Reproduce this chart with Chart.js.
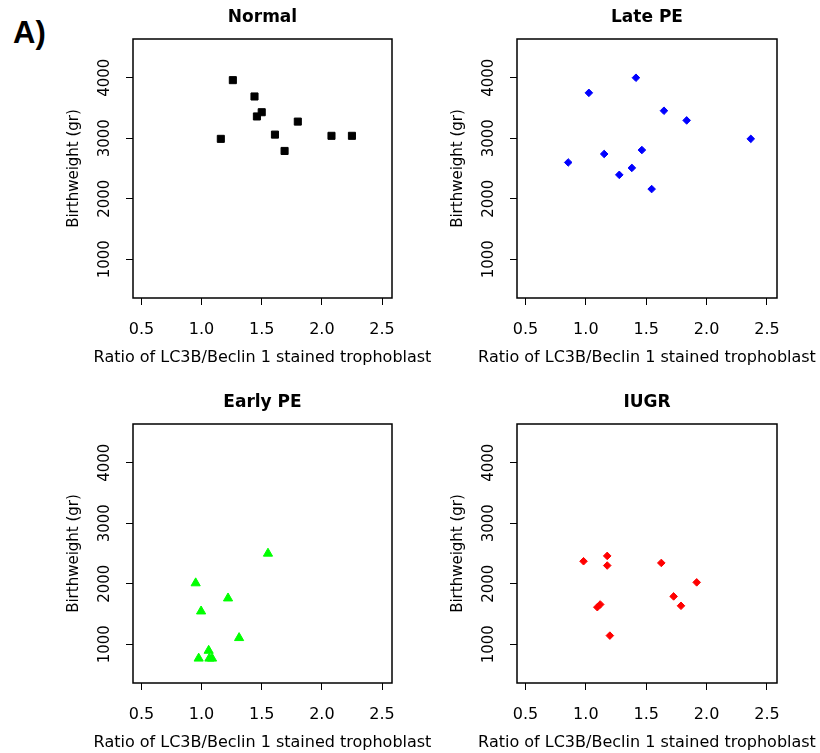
<!DOCTYPE html>
<html><head><meta charset="utf-8">
<script src="https://cdn.jsdelivr.net/npm/chart.js@4"></script>
<style>
html,body{margin:0;padding:0;background:#fff;width:820px;height:753px;overflow:hidden;position:relative}
canvas{position:absolute}
#lab{position:absolute;left:13px;top:17px;font:bold 31px "Liberation Sans",Arial,sans-serif;line-height:31px;color:#000}
</style></head><body>
<div id="lab">A)</div>
<canvas id="c1" width="440" height="368" style="left:0;top:0"></canvas>
<canvas id="c2" width="436" height="368" style="left:384px;top:0"></canvas>
<canvas id="c3" width="440" height="368" style="left:0;top:385px"></canvas>
<canvas id="c4" width="436" height="368" style="left:384px;top:385px"></canvas>
<script>
// ---- data ----
const xTickValues = [0.5, 1.0, 1.5, 2.0, 2.5];
const xTickLabels = ['0.5', '1.0', '1.5', '2.0', '2.5'];
const yTickValues = [1000, 2000, 3000, 4000];
const yTickLabels = ['1000', '2000', '3000', '4000'];
const panelTitles = ['Normal', 'Late PE', 'Early PE', 'IUGR'];
const xAxisTitle = 'Ratio of LC3B/Beclin 1 stained trophoblast';
const yAxisTitle = 'Birthweight (gr)';

const normalX = [1.26, 1.44, 1.50, 1.46, 1.80, 1.16, 1.61, 1.69, 2.08, 2.25];
const normalY = [3960, 3690, 3430, 3360, 3275, 2990, 3060, 2790, 3040, 3040];

const latePEX = [1.415, 1.025, 1.647, 1.835, 2.366, 1.464, 1.152, 0.854, 1.381, 1.277, 1.545];
const latePEY = [4000, 3750, 3455, 3295, 2990, 2805, 2740, 2600, 2510, 2395, 2160];

const earlyPEX = [1.552, 0.951, 1.220, 0.996, 1.312, 1.059, 0.976, 1.065, 1.087];
const earlyPEY = [2500, 2010, 1760, 1545, 1105, 895, 766, 766, 766];

const iugrX = [0.981, 1.177, 1.177, 1.625, 1.918, 1.727, 1.788, 1.119, 1.095, 1.199];
const iugrY = [2372, 2460, 2301, 2344, 2023, 1791, 1636, 1658, 1613, 1143];

// ---- drawing ----
const FONT = 'DejaVu Sans';
const boxPlugin = {
  id: 'box',
  beforeDraw(chart) {
    // let long axis titles run past the plot width instead of being squeezed
    const ctx = chart.ctx;
    if (!ctx._noSqueeze) {
      const f = ctx.fillText;
      ctx.fillText = function (t, x, y) { return f.call(this, t, x, y); };
      ctx._noSqueeze = true;
    }
  },
  afterDraw(chart) {
    const {ctx, chartArea: a} = chart;
    ctx.save();
    ctx.strokeStyle = '#000';
    ctx.lineWidth = 1.5;
    ctx.strokeRect(a.left, a.top, a.right - a.left, a.bottom - a.top);
    ctx.restore();
  }
};

function makePanel(id, title, xs, ys, color, pointStyle, radius, padRight) {
  const data = xs.map((x, i) => ({x: x, y: ys[i]}));
  new Chart(document.getElementById(id), {
    type: 'scatter',
    data: {datasets: [{
      data: data,
      backgroundColor: color,
      borderColor: color,
      borderWidth: 1,
      pointStyle: pointStyle,
      pointRadius: radius,
      pointHoverRadius: radius
    }]},
    options: {
      responsive: false,
      animation: false,
      events: [],
      layout: {padding: {left: 0, top: 0, right: padRight, bottom: 0}},
      plugins: {
        legend: {display: false},
        tooltip: {enabled: false},
        title: {
          display: true, text: title, fullSize: false, color: '#000',
          font: {family: FONT, size: 17, weight: 'bold'},
          padding: {top: 7.5, bottom: 11.1}
        }
      },
      scales: {
        x: {
          type: 'linear', min: 0.43, max: 2.583,
          afterBuildTicks: s => { s.ticks = xTickValues.map(v => ({value: v})); },
          afterFit: s => { s.height = 70; },
          ticks: {
            autoSkip: false, minRotation: 0, maxRotation: 0, padding: 15, color: '#000',
            font: {family: FONT, size: 16},
            callback: v => xTickLabels[xTickValues.indexOf(v)]
          },
          grid: {drawOnChartArea: false, drawTicks: true, tickLength: 7, color: '#000', lineWidth: 1},
          border: {display: false},
          title: {display: true, text: xAxisTitle, color: '#000',
            font: {family: FONT, size: 16}, padding: {top: 0, bottom: 0.7}}
        },
        y: {
          type: 'linear', min: 360, max: 4640,
          afterBuildTicks: s => { s.ticks = yTickValues.map(v => ({value: v})); },
          afterFit: s => { s.width = 133; },
          ticks: {
            autoSkip: false, minRotation: 90, maxRotation: 90, crossAlign: 'center',
            padding: 2.3, color: '#000', font: {family: FONT, size: 15},
            callback: v => yTickLabels[yTickValues.indexOf(v)]
          },
          grid: {drawOnChartArea: false, drawTicks: true, tickLength: 7, color: '#000', lineWidth: 1},
          border: {display: false},
          title: {display: true, text: yAxisTitle, color: '#000',
            font: {family: FONT, size: 15}, padding: {top: 64.7, bottom: 0}}
        }
      }
    },
    plugins: [boxPlugin]
  });
}

makePanel('c1', panelTitles[0], normalX, normalY, '#000000', 'rect', 5, 48);
makePanel('c2', panelTitles[1], latePEX, latePEY, '#0000ff', 'rectRot', 3.8, 43);
makePanel('c3', panelTitles[2], earlyPEX, earlyPEY, '#00ff00', 'triangle', 5.3, 48);
makePanel('c4', panelTitles[3], iugrX, iugrY, '#ff0000', 'rectRot', 3.8, 43);
</script>
</body></html>
